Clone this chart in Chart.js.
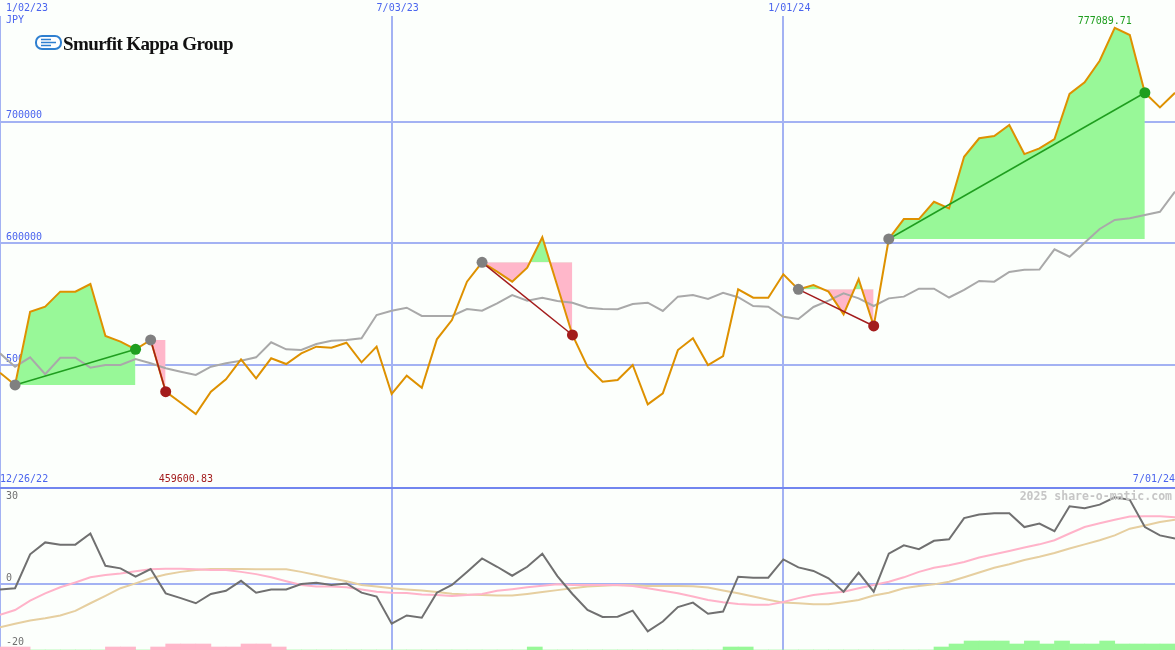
<!DOCTYPE html>
<html>
<head>
<meta charset="utf-8">
<title>Smurfit Kappa Group - weekly chart</title>
<script src="https://cdn.jsdelivr.net/npm/chart.js@4.4.1/dist/chart.umd.min.js"></script>
<style>
  html, body { margin: 0; padding: 0; background: #fcfffc; }
  #wrap { position: relative; width: 1175px; height: 650px; overflow: hidden; }
  #wrap canvas { position: absolute; left: 0; }
  #priceCanvas { top: 0; }
  #oscCanvas { top: 470px; }
  .note { position: absolute; white-space: nowrap; }
  #currency { left: 6px; top: 14px; font: 10px/12px 'DejaVu Sans Mono', monospace; color: #4a64ee; }
  #logo { left: 35px; top: 35px; }
  #logoText { left: 63px; top: 34px; font: bold 19px/19px 'Liberation Serif', serif; letter-spacing: -0.6px; color: #111; }
  #watermark { right: 3px; top: 490px; font: bold 11.5px/12px 'DejaVu Sans Mono', monospace; color: #c6c6c6; }
</style>
</head>
<body>
<div id="wrap">
  <canvas id="priceCanvas" width="1175" height="488" style="width:1175px;height:488px"></canvas>
  <canvas id="oscCanvas" width="1175" height="180" style="width:1175px;height:180px"></canvas>
  <div class="note" id="currency">JPY</div>
  <svg class="note" id="logo" width="27" height="15" viewBox="0 0 27 15">
    <rect x="1" y="1" width="25" height="13" rx="6" fill="#fff" stroke="#2f80d0" stroke-width="2"/>
    <path d="M6 4.5h10M6 7.5h15M6 10.5h10" stroke="#2f80d0" stroke-width="1.6"/>
  </svg>
  <div class="note" id="logoText">Smurfit Kappa Group</div>
  <div class="note" id="watermark">2025 share-o-matic.com</div>
</div>
<script>
// weekly closes, week 0 = 1/02/23 ... week 78 = 7/01/24
const price = [
  493700, 483600, 543800, 547900, 560300, 560300, 566600, 523800, 519200, 512900,
  520600, 478100, 469000, 459600.83, 478100, 488300, 504700, 489100, 505500, 500800,
  509600, 515100, 514200, 518300, 502200, 515100, 476200, 491200, 481300, 521100,
  537000, 568500, 584400, 576700, 568500, 580000, 605000, 564900, 524700, 498600,
  486300, 487700, 500000, 467700, 476700, 512300, 522000, 500000, 507400, 562200,
  555300, 555300, 574600, 562200, 565800, 560300, 541700, 570700, 532100, 603600,
  620000, 620000, 634200, 628800, 671200, 686400, 688200, 697300, 673400, 678100,
  685800, 722800, 732400, 750100, 777089.71, 771300, 723800, 711800, 723800
];

// grey comparison line
const average = [
  509600, 498600, 506300, 492400, 506000, 506000, 497800, 500000, 500000, 504900,
  501400, 497300, 494500, 491800, 498600, 501400, 503500, 506300, 518700, 512900,
  512300, 517300, 520000, 520600, 522000, 541100, 544600, 547100, 540300, 540300,
  540300, 546000, 544600, 550700, 557500, 552900, 555300, 552600, 551200, 547100,
  546000, 545800, 550100, 551200, 544400, 556200, 557500, 554300, 559400, 555700,
  548500, 547900, 539700, 537800, 547700, 552900, 558900, 554800, 548500, 554800,
  556200, 562700, 562700, 555500, 561700, 569100, 568500, 576500, 578300, 578500,
  595100, 589000, 600500, 611800, 619200, 620600, 623300, 626000, 642500
];

// trend runs (week index of start and end)
const trendStart = [1, 10, 32, 53, 59];
const trendEnd = [9, 11, 38, 58, 76];

// lower panel
const momentum = [
  -1.7, -1.3, 9.3, 13.0, 12.3, 12.3, 15.8, 5.7, 4.9, 2.3,
  4.7, -2.9, -4.4, -6.0, -3.1, -2.1, 1.0, -2.7, -1.7, -1.7,
  0.0, 0.4, -0.3, 0.2, -2.7, -3.9, -12.4, -9.8, -10.5, -2.7,
  -0.3, 3.8, 8.0, 5.4, 2.6, 5.4, 9.5, 2.5, -3.1, -8.1,
  -10.3, -10.2, -8.3, -14.8, -11.7, -7.2, -5.8, -9.3, -8.6, 2.3,
  2.0, 2.0, 7.7, 5.2, 4.1, 1.8, -2.4, 3.6, -2.4, 9.5,
  12.1, 10.9, 13.5, 14.0, 20.6, 21.7, 22.1, 22.1, 17.8, 18.9,
  16.5, 24.3, 23.7, 24.8, 27.1, 26.3, 17.8, 15.2, 14.2
];
const fastAvg = [
  -9.6, -8.1, -5.2, -2.9, -1.0, 0.5, 2.1, 2.8, 3.3, 4.0,
  4.6, 4.8, 4.8, 4.6, 4.4, 4.4, 3.8, 3.1, 2.1, 0.9,
  -0.3, -0.8, -0.8, -1.0, -1.7, -2.4, -2.7, -2.8, -3.3, -3.4,
  -3.7, -3.4, -3.1, -2.1, -1.6, -1.0, -0.5, -0.1, -0.3, -0.3,
  -0.3, -0.3, -0.6, -1.3, -2.1, -2.9, -3.9, -5.0, -5.7, -6.2,
  -6.5, -6.5, -5.6, -4.4, -3.4, -2.9, -2.4, -1.3, -0.3, 0.7,
  2.1, 3.8, 5.1, 5.9, 6.9, 8.3, 9.3, 10.3, 11.4, 12.4,
  13.7, 15.8, 17.8, 19.0, 20.1, 21.1, 21.2, 21.2, 20.9
];
const slowAvg = [
  -13.5, -12.4, -11.4, -10.7, -9.8, -8.4, -6.0, -3.7, -1.3, 0.2,
  1.8, 3.0, 3.8, 4.4, 4.7, 4.7, 4.7, 4.6, 4.6, 4.6,
  3.8, 2.8, 1.8, 0.9, -0.3, -0.8, -1.3, -1.7, -2.0, -2.5,
  -3.0, -3.3, -3.4, -3.6, -3.6, -3.1, -2.5, -1.9, -1.3, -0.8,
  -0.5, -0.3, -0.4, -0.6, -0.6, -0.6, -0.7, -1.1, -2.0, -2.9,
  -3.9, -4.9, -5.8, -6.0, -6.3, -6.3, -5.7, -5.0, -3.6, -2.7,
  -1.3, -0.6, -0.1, 0.7, 2.1, 3.6, 5.1, 6.2, 7.5, 8.5,
  9.7, 11.1, 12.4, 13.7, 15.2, 17.3, 18.3, 19.4, 20.1
];
// signal strength per week (negative = pink, positive = green)
const signal = [
  -1, -1, 0, 0, 0, 0, 0, -1, -1, 0,
  -1, -2, -2, -2, -1, -1, -2, -2, -1, 0,
  0, 0, 0, 0, 0, 0, 0, 0, 0, 0,
  0, 0, 0, 0, 0, 1, 0, 0, 0, 0,
  0, 0, 0, 0, 0, 0, 0, 0, 1, 1,
  0, 0, 0, 0, 0, 0, 0, 0, 0, 0,
  0, 0, 1, 2, 3, 3, 3, 2, 3, 2,
  3, 2, 2, 3, 2, 2, 2, 2, 0
];

// axis ticks
const dateTickWeeks = [0, 26, 52, 78];
const dateTickLabels = ['1/02/23', '7/03/23', '1/01/24', ''];
const rangeLabels = ['12/26/22', '', '', '7/01/24'];
const priceTicks = [500000, 600000, 700000];
const oscTicks = [-20, 0];
const oscTopTick = [30];

const mono = "'DejaVu Sans Mono', monospace";
const gridBlue = '#a3b2f3';
const labelBlue = '#4a64ee';
const upGreen = '#1f9e1f';
const downRed = '#a31c1c';

const pts = arr => arr.map((v, i) => ({ x: i, y: v }));

// trend datasets: straight line from start to end with dots
const trendSets = trendStart.map((s, k) => {
  const e = trendEnd[k];
  const up = price[e] >= price[s];
  return {
    data: [{ x: s, y: price[s] }, { x: e, y: price[e] }],
    borderColor: up ? upGreen : downRed,
    borderWidth: 1.5,
    pointRadius: 5.5,
    pointBorderWidth: 0,
    pointBackgroundColor: ['#808080', up ? upGreen : downRed]
  };
});

// shaded areas between price and the level where the run started
const fillSets = trendStart.map((s, k) => {
  const e = trendEnd[k];
  return {
    data: price.slice(s, e + 1).map((v, j) => ({ x: s + j, y: v })),
    borderColor: 'transparent',
    borderWidth: 0,
    fill: { target: { value: price[s] }, above: '#98f898', below: '#ffb7ca' }
  };
});

const extremeLabels = {
  id: 'extremeLabels',
  afterDatasetsDraw(chart) {
    const { ctx, chartArea, scales: { x } } = chart;
    let hi = 0, lo = 0;
    price.forEach((v, i) => {
      if (v > price[hi]) hi = i;
      if (v < price[lo]) lo = i;
    });
    ctx.save();
    ctx.font = '10px ' + mono;
    ctx.textAlign = 'center';
    ctx.textBaseline = 'middle';
    ctx.fillStyle = upGreen;
    ctx.fillText(price[hi].toFixed(2), x.getPixelForValue(hi) - 10, chartArea.top + 5);
    ctx.fillStyle = downRed;
    ctx.fillText(price[lo].toFixed(2), x.getPixelForValue(lo) - 10, chartArea.bottom - 9);
    ctx.restore();
  }
};

const common = {
  responsive: false,
  devicePixelRatio: 1,
  animation: false,
  events: [],
  layout: { padding: 0, autoPadding: false },
  plugins: { legend: { display: false }, tooltip: { enabled: false } },
  elements: { point: { radius: 0 }, line: { tension: 0 } }
};

const fixTicks = list => scale => { scale.ticks = list.map(v => ({ value: v })); };
// mirrored labels sit inside the plot, so the axis takes no room
const flatY = s => { s.width = 0; s.paddingTop = 0; s.paddingBottom = 0; };
const flatX = s => { s.paddingLeft = 0; s.paddingRight = 0; };

new Chart(document.getElementById('priceCanvas'), {
  type: 'line',
  data: {
    datasets: [
      ...trendSets,
      { data: pts(price), borderColor: '#de9100', borderWidth: 2 },
      { data: pts(average), borderColor: '#a9a9a9', borderWidth: 2 },
      ...fillSets
    ]
  },
  options: {
    ...common,
    scales: {
      x: {
        type: 'linear', position: 'top', min: 0, max: 78, offset: false,
        afterBuildTicks: fixTicks(dateTickWeeks),
        afterFit: flatX,
        ticks: {
          align: 'inner', labelOffset: 6, padding: 2, autoSkip: false, maxRotation: 0,
          color: labelBlue, font: { family: mono, size: 10 },
          callback: (v, i) => dateTickLabels[i]
        },
        grid: { color: c => (c.tick && c.tick.value === 78 ? 'transparent' : gridBlue), lineWidth: 2, drawTicks: false, offset: false },
        border: { display: false }
      },
      y: {
        type: 'linear', min: 398900, max: 786900,
        afterBuildTicks: fixTicks(priceTicks),
        afterFit: flatY,
        ticks: {
          mirror: true, padding: 6, labelOffset: -6,
          color: labelBlue, font: { family: mono, size: 10 },
          callback: v => String(v)
        },
        grid: { color: gridBlue, lineWidth: 2, drawTicks: false },
        border: { display: false }
      }
    }
  },
  plugins: [extremeLabels]
});

new Chart(document.getElementById('oscCanvas'), {
  type: 'line',
  data: {
    datasets: [
      { data: pts(momentum), borderColor: '#707070', borderWidth: 2, yAxisID: 'y' },
      { data: pts(fastAvg), borderColor: '#ffb3c9', borderWidth: 2, yAxisID: 'y' },
      { data: pts(slowAvg), borderColor: '#e6cfa0', borderWidth: 2, yAxisID: 'y' },
      {
        type: 'bar',
        data: signal.map((v, i) => ({ x: i + 0.5, y: Math.abs(v) })),
        backgroundColor: signal.map(v => (v < 0 ? '#ffb7ca' : '#98f898')),
        borderWidth: 0,
        barPercentage: 1,
        categoryPercentage: 1,
        yAxisID: 'yh'
      }
    ]
  },
  options: {
    ...common,
    scales: {
      x: {
        type: 'linear', position: 'top', min: 0, max: 78, offset: false,
        afterBuildTicks: fixTicks(dateTickWeeks),
        afterFit: flatX,
        ticks: {
          align: 'inner', padding: 3, autoSkip: false, maxRotation: 0,
          color: labelBlue, font: { family: mono, size: 10 },
          callback: (v, i) => rangeLabels[i]
        },
        grid: { color: c => (c.tick && c.tick.value === 78 ? 'transparent' : gridBlue), lineWidth: 2, drawTicks: false, offset: false },
        border: { display: true, color: '#7286ef', width: 2 }
      },
      y: {
        type: 'linear', min: -20.6, max: 30,
        afterBuildTicks: fixTicks(oscTicks),
        afterFit: flatY,
        ticks: { mirror: true, padding: 6, labelOffset: -6, color: '#707070', font: { family: mono, size: 10 } },
        grid: { color: c => (c.tick && c.tick.value === 0 ? gridBlue : 'transparent'), lineWidth: 2, drawTicks: false },
        border: { display: false }
      },
      yTop: {
        type: 'linear', position: 'left', min: -20.6, max: 30,
        afterBuildTicks: fixTicks(oscTopTick),
        afterFit: flatY,
        ticks: { mirror: true, padding: 6, labelOffset: 8, color: '#707070', font: { family: mono, size: 10 } },
        grid: { display: false },
        border: { display: false }
      },
      yh: { display: false, min: 0, max: 54 }
    }
  }
});
</script>
</body>
</html>
